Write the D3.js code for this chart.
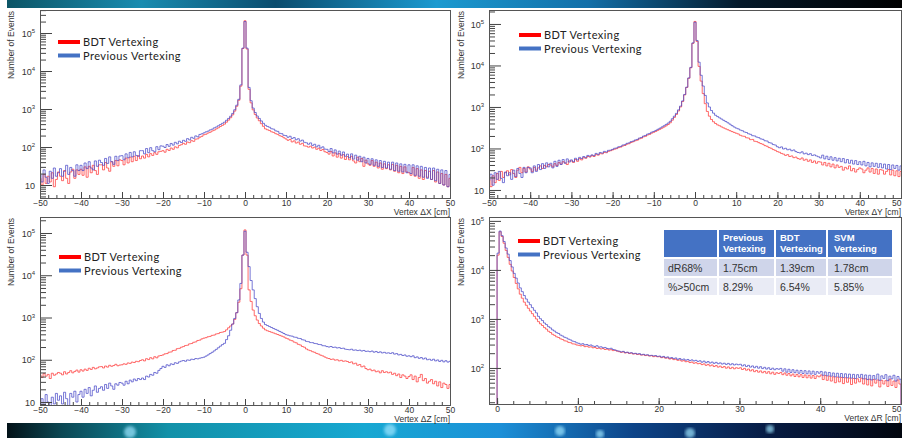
<!DOCTYPE html>
<html>
<head>
<meta charset="utf-8">
<script src="https://cdn.jsdelivr.net/npm/d3@7"></script>
<style>
  body { margin: 0; background: #fff; }
  svg { display: block; }
  text { font-family: "Liberation Sans", Arial, sans-serif; }
</style>
</head>
<body>
<svg id="chart" width="902" height="438"></svg>
<script>
/* global d3 */

// ---- data: bin contents ----
// dX, dY, dZ: bins 0.5 cm wide, centred on -50 ... 50
var dxPrevious = [
  19,12,25,16,11,23,15,28,17,21, 27,17,23,33,19,29,24,17,34,24,
  33,24,38,27,41,28,25,43,31,45, 39,33,50,37,55,41,35,57,44,58,
  59,46,66,52,72,55,75,60,57,80, 80,66,91,71,96,80,75,102,85,107,
  105,97,116,104,124,112,133,121,142,131, 150,141,166,154,180,169,196,185,214,222,
  235,250,261,281,294,318,336,362,390,420, 450,505,565,645,765,955,1260,1800,4300,40000,
  200000,
  40000,3700,1650,1060,810,655,565,485,420,372, 348,331,302,295,266,258,229,224,203,199,
  180,192,168,177,155,165,143,152,133,129, 118,128,110,118,101,111,94,101,88,87,
  76,91,70,84,65,78,61,74,57,65, 52,66,48,61,45,57,41,54,38,50,
  35,49,33,46,31,44,29,42,28,40, 26,40,24,38,23,36,22,35,21,34,
  20,34,18,32,17,31,16,29,15,28, 14,28,13,26,11,25,10,24,9,19
];
var dxBDT = [
  15,10,19,11,17,12,21,9,14,22, 17,13,24,15,11,22,26,15,25,19,
  26,18,30,16,31,21,33,24,19,34, 34,25,39,28,23,41,31,44,32,46,
  44,34,51,38,54,41,57,44,59,49, 58,51,64,55,67,60,71,64,75,77,
  80,73,87,81,94,87,101,95,110,115, 125,118,135,130,147,141,161,164,181,191,
  210,217,233,244,263,277,299,319,346,371, 400,450,510,590,700,880,1180,1700,4000,39000,
  210000,
  38000,3300,1450,950,720,580,490,410,350,300, 284,271,251,242,224,215,198,190,175,163,
  150,158,136,145,127,135,118,125,107,105, 99,105,94,99,87,93,81,86,75,72,
  65,76,58,70,54,67,51,63,47,56, 46,57,43,38,54,41,50,31,45,36,
  33,44,31,40,28,38,26,36,27,34, 25,35,23,33,21,31,20,30,22,21,
  18,29,17,27,15,25,14,24,16,23, 14,24,12,22,11,20,10,19,9,15
];
var dyPrevious = [
  17,24,13,26,18,28,19,15,27,22, 26,18,30,21,33,25,20,35,26,35,
  34,26,38,28,41,31,43,33,45,36, 44,34,49,37,52,41,54,44,56,47,
  53,48,58,53,61,57,64,60,68,65, 70,67,76,72,80,77,85,82,90,91,
  95,101,103,110,112,121,123,133,136,146, 150,160,165,178,184,199,206,222,230,247,
  257,272,290,308,330,352,380,410,450,520, 600,700,850,1050,1400,2000,3000,5000,9000,35000,
  110000,
  40000,12000,5800,3200,1900,1250,1000,820,710,630, 585,545,510,475,445,415,385,355,330,310,
  297,278,268,250,242,226,219,203,200,188, 182,170,166,153,151,138,135,124,121,110,
  104,109,97,101,93,96,88,92,84,80, 78,83,74,77,71,75,68,70,66,63,
  59,69,56,65,54,63,52,60,50,58, 48,57,45,54,44,52,42,51,41,48,
  40,49,38,46,36,45,37,44,35,43, 34,42,32,41,31,40,33,39,30,38
];
var dyBDT = [
  18,12,22,15,25,17,28,20,26,29, 23,31,25,20,30,35,26,33,27,36,
  32,28,35,30,34,38,33,39,36,41, 40,36,43,39,46,42,48,45,41,50,
  50,46,54,49,57,53,60,58,64,62, 67,64,71,69,75,74,80,79,85,88,
  92,96,99,105,108,115,118,127,130,139, 145,153,158,170,176,190,196,211,218,234,
  245,258,274,290,308,328,350,378,415,480, 560,660,800,1000,1350,1950,2950,4900,8800,34000,
  115000,
  38000,9500,4200,2100,1200,780,600,500,440,400, 370,352,330,312,296,282,268,255,244,233,
  224,208,199,196,181,178,163,165,149,146, 138,131,126,117,113,105,101,94,90,84,
  81,76,73,68,71,64,66,60,62,57, 55,59,52,55,49,53,46,50,44,48,
  47,40,46,38,44,36,42,34,40,35, 37,30,35,32,38,29,33,27,31,34,
  32,26,30,34,27,33,25,32,24,31, 30,24,28,31,23,30,22,29,21,28
];
var dzPrevious = [
  8,12,7,15,10,6,13,9,16,11, 14,9,17,12,8,16,13,18,10,15,
  18,13,20,16,22,14,19,24,17,21, 23,19,26,21,28,24,20,27,25,29,
  28,25,31,27,33,30,35,32,36,34, 37,34,41,39,45,43,50,48,56,62,
  70,66,76,72,80,77,85,82,89,93, 96,92,99,97,103,101,107,105,109,112,
  115,122,130,140,150,162,176,192,210,228, 245,300,370,500,700,950,1300,2600,6400,30000,
  110000,
  35000,16000,7500,4500,2800,1800,1250,950,780,680, 645,610,580,548,522,497,468,445,418,392,
  382,368,362,344,340,322,318,298,292,272, 268,255,254,243,240,230,228,215,214,205,
  200,206,196,199,190,194,185,188,178,175, 172,178,168,171,165,169,161,166,158,160,
  155,161,151,157,148,154,145,150,143,146, 141,147,136,140,130,134,126,130,121,124,
  118,124,112,117,108,113,104,110,100,103, 97,103,94,99,91,97,89,95,88,92
];
var dzBDT = [
  44,38,47,41,45,36,48,43,46,50, 48,44,52,46,50,55,49,53,57,51,
  58,54,60,56,63,59,66,61,64,68, 69,64,71,67,74,70,73,78,72,75,
  76,80,78,84,82,88,86,92,90,96, 100,94,106,101,112,105,118,111,123,126,
  130,138,140,151,153,166,168,183,186,198, 205,217,221,238,242,259,265,286,292,312,
  325,333,350,357,378,384,408,416,442,450, 465,510,570,630,700,900,1300,2300,4800,30000,
  118000,
  30000,4500,2400,1500,1100,870,720,630,560,510, 485,466,447,430,412,396,378,362,346,325,
  312,292,282,262,252,232,224,206,198,180, 170,164,155,150,141,136,128,123,116,110,
  107,102,104,98,100,94,97,92,94,91, 86,89,80,83,74,77,68,71,62,58,
  60,55,57,52,54,49,55,50,52,49, 51,45,48,42,46,38,44,41,36,40,
  44,34,41,30,38,45,32,36,28,31, 34,27,31,24,30,22,28,26,21,26
];
// dR: bins 0.25 cm wide, from 0 to 50
var drPrevious = [
  22000,62000,50000,38000,28000,21000,15500,11500,8500,6800,5400,4300,3600,3000,2550,2200,1950,1700,1500,1330,
  1130,1010,925,825,765,695,655,598,565,525,505,468,448,422,408,386,372,352,344,326,
  318,305,312,296,301,288,294,280,275,284,266,270,258,262,250,246,252,238,232,224,
  220,212,218,206,210,201,205,196,199,192,196,186,190,183,186,178,181,176,179,172,
  175,166,172,162,168,158,163,155,160,150,156,147,152,144,149,141,146,139,143,136,
  140,131,138,128,135,126,132,124,130,122,127,120,125,118,124,116,122,115,120,116,
  119,110,116,107,113,104,110,101,108,99,106,97,103,95,101,93,99,92,97,94,
  98,86,96,82,94,81,92,80,90,78,89,77,88,76,87,75,86,74,84,78,
  85,71,83,69,81,68,79,66,78,65,77,64,76,63,75,62,74,61,73,64,
  74,60,72,58,71,57,70,59,75,56,69,61,73,55,68,60,71,54,67,59
];
var drBDT = [
  20000,60000,48000,35000,25000,18000,13000,9500,7000,5300,4100,3200,2650,2200,1900,1650,1450,1280,1130,1000,
  880,795,735,665,620,560,528,486,462,432,418,392,380,358,352,332,327,310,307,294,
  290,282,288,272,278,266,270,258,262,250,255,244,249,238,243,232,236,226,230,220,
  215,208,213,202,207,197,201,192,196,188,191,183,186,179,182,175,178,170,174,169,
  170,162,167,158,161,152,156,148,151,143,146,138,141,134,137,129,132,125,128,122,
  124,117,121,113,118,110,115,107,112,104,109,102,107,99,105,97,103,96,101,98,
  101,93,98,90,95,87,92,84,89,82,87,80,85,78,84,76,82,74,80,77,
  81,73,79,71,77,69,75,67,74,66,73,64,72,63,71,62,70,61,69,66,
  72,58,70,56,68,54,66,50,65,52,64,48,63,51,62,46,61,49,60,52,
  62,47,60,45,59,43,58,49,57,41,56,47,55,42,59,44,54,40,57,47
];

var seriesNames = ["BDT Vertexing", "Previous Vertexing"];
var xTicksSym = [-50, -40, -30, -20, -10, 0, 10, 20, 30, 40, 50];
var xTicksR = [0, 10, 20, 30, 40, 50];
var yTickPowers = [1, 2, 3, 4, 5];

var tableHead = ["", "Previous\nVertexing", "BDT\nVertexing", "SVM\nVertexing"];
var tableRows = [
  ["dR68%", "1.75cm", "1.39cm", "1.78cm"],
  ["%>50cm", "8.29%", "6.54%", "5.85%"]
];

// ---- layout ----
var width = 902;
var colBDT = "#ff4545", colPrev = "#4a4ac8";
var legBDT = "#ff0000", legPrev = "#4472c4";

var panels = [
  {id: "dx", left: 40, right: 450, top: 10, bottom: 198, xDomain: [-50, 50], yDomain: [4.55, 4.03e5],
   binStart: -50.25, binWidth: 0.5, prev: dxPrevious, bdt: dxBDT, xTicks: xTicksSym,
   title: "Vertex \u0394X [cm]", legX: 58, legY: 42, titleX: 14},
  {id: "dy", left: 489, right: 901, top: 10, bottom: 198, xDomain: [-50, 50], yDomain: [6.4, 2.17e5],
   binStart: -50.25, binWidth: 0.5, prev: dyPrevious, bdt: dyBDT, xTicks: xTicksSym,
   title: "Vertex \u0394Y [cm]", legX: 519, legY: 35, titleX: 464},
  {id: "dz", left: 40, right: 450, top: 217, bottom: 405, xDomain: [-50, 50], yDomain: [8.5, 2.39e5],
   binStart: -50.25, binWidth: 0.5, prev: dzPrevious, bdt: dzBDT, xTicks: xTicksSym,
   title: "Vertex \u0394Z [cm]", legX: 59, legY: 257, titleX: 14},
  {id: "dr", left: 489, right: 901, top: 217, bottom: 404, xDomain: [-1, 50], yDomain: [18.4, 1.2e5],
   binStart: 0, binWidth: 0.25, prev: drPrevious, bdt: drBDT, xTicks: xTicksR,
   title: "Vertex \u0394R [cm]", legX: 518, legY: 241, titleX: 464}
];

var svg = d3.select("#chart");
var defs = svg.append("defs");

// background strips of the slide
var gTop = defs.append("linearGradient").attr("id", "bgTop");
[["0%", "#0c5566"], ["15%", "#1a8cb0"], ["30%", "#0b4d6e"], ["48%", "#1c9ad0"],
 ["65%", "#136fa8"], ["82%", "#04192a"], ["100%", "#000"]].forEach(function(s) {
  gTop.append("stop").attr("offset", s[0]).attr("stop-color", s[1]);
});
var gBot = defs.append("linearGradient").attr("id", "bgBot");
[["0%", "#031218"], ["6%", "#0b4652"], ["18%", "#1291a8"], ["40%", "#17a8d2"],
 ["55%", "#1c90d8"], ["70%", "#0d4488"], ["85%", "#071c44"], ["100%", "#02060e"]].forEach(function(s) {
  gBot.append("stop").attr("offset", s[0]).attr("stop-color", s[1]);
});
defs.append("filter").attr("id", "soft").append("feGaussianBlur").attr("stdDeviation", 1.5);

svg.append("rect").attr("x", 7).attr("y", 0).attr("width", 895).attr("height", 8).attr("fill", "url(#bgTop)");
svg.append("rect").attr("x", 7).attr("y", 423).attr("width", 895).attr("height", 15).attr("fill", "url(#bgBot)");
var blobs = [[130, 432, 6], [390, 430, 6], [560, 431, 5], [600, 434, 4], [690, 433, 5], [770, 429, 4]];
svg.selectAll("circle.blob").data(blobs).enter().append("circle")
  .attr("class", "blob")
  .attr("cx", function(d) { return d[0]; })
  .attr("cy", function(d) { return d[1]; })
  .attr("r", function(d) { return d[2]; })
  .attr("fill", "#9fe6ff").attr("opacity", 0.7).attr("filter", "url(#soft)");

panels.forEach(drawPanel);
drawTable(664, 230);

function drawPanel(p) {
  var x = d3.scaleLinear().domain(p.xDomain).range([p.left, p.right]);
  var y = d3.scaleLog().domain(p.yDomain).range([p.bottom, p.top]);
  var g = svg.append("g");

  defs.append("clipPath").attr("id", "clip-" + p.id)
    .append("rect")
    .attr("x", p.left).attr("y", p.top)
    .attr("width", p.right - p.left).attr("height", p.bottom - p.top);

  // histograms as ROOT-style step outlines
  var floor = p.yDomain[0];
  function steps(values) {
    var pts = [[p.binStart, floor]];
    values.forEach(function(v, i) { pts.push([p.binStart + i * p.binWidth, v]); });
    var end = p.binStart + values.length * p.binWidth;
    pts.push([end, values[values.length - 1]]);
    pts.push([end, floor]);
    return pts;
  }
  var line = d3.line()
    .x(function(d) { return x(d[0]); })
    .y(function(d) { return y(d[1]); })
    .curve(d3.curveStepAfter);

  var hg = g.append("g").attr("clip-path", "url(#clip-" + p.id + ")");
  hg.append("path").datum(steps(p.bdt))
    .attr("fill", "none").attr("stroke", colBDT).attr("stroke-width", 1).attr("stroke-opacity", 0.8)
    .attr("d", line);
  hg.append("path").datum(steps(p.prev))
    .attr("fill", "none").attr("stroke", colPrev).attr("stroke-width", 1).attr("stroke-opacity", 0.75)
    .attr("d", line);

  // x axis: major and minor ticks pointing inwards
  var minorX = d3.range(p.xTicks[0], p.xTicks[p.xTicks.length - 1] + 0.1, 2);
  g.append("g")
    .attr("transform", "translate(0," + p.bottom + ")")
    .call(d3.axisBottom(x).tickValues(minorX).tickSize(-3).tickFormat(""))
    .call(function(a) { a.select(".domain").remove(); });
  var ax = g.append("g")
    .attr("transform", "translate(0," + p.bottom + ")")
    .call(d3.axisBottom(x).tickValues(p.xTicks).tickSize(-6).tickPadding(1.5));
  ax.select(".domain").remove();
  ax.selectAll("text").attr("font-size", 8.5).attr("fill", "#333")
    .style("font-family", "'Liberation Sans', Arial, sans-serif");
  // a label at the window's right edge is pulled in so it stays whole
  ax.selectAll(".tick").filter(function(d) { return x(d) > width - 6; })
    .select("text").attr("text-anchor", "end").attr("x", width - 1 - x.range()[1]);

  // y axis: log decades with minor ticks 2..9
  var decades = yTickPowers.map(function(k) { return Math.pow(10, k); })
    .filter(function(v) { return v >= p.yDomain[0] && v <= p.yDomain[1]; });
  var minorY = [];
  [0, 1, 2, 3, 4, 5].forEach(function(k) {
    for (var m = 2; m <= 9; m++) {
      var v = m * Math.pow(10, k);
      if (v >= p.yDomain[0] && v <= p.yDomain[1]) minorY.push(v);
    }
  });
  g.append("g")
    .attr("transform", "translate(" + p.left + ",0)")
    .call(d3.axisLeft(y).tickValues(minorY).tickSize(-6).tickFormat(""))
    .call(function(a) { a.select(".domain").remove(); });
  var ay = g.append("g")
    .attr("transform", "translate(" + p.left + ",0)")
    .call(d3.axisLeft(y).tickValues(decades).tickSize(-12).tickPadding(5).tickFormat(""));
  ay.select(".domain").remove();
  ay.selectAll(".tick").append("text")
    .attr("x", -5).attr("dy", "0.35em").attr("text-anchor", "end")
    .attr("font-size", 9).attr("fill", "#333")
    .each(function(d) {
      var t = d3.select(this), k = Math.round(Math.log10(d));
      t.append("tspan").text("10");
      if (k > 1) t.append("tspan").attr("font-size", 6).attr("dy", "-0.6em").text(k);
    });
  g.selectAll(".tick line").attr("stroke", "#444");

  // frame
  g.append("rect")
    .attr("x", p.left + 0.5).attr("y", p.top + 0.5)
    .attr("width", p.right - p.left).attr("height", p.bottom - p.top)
    .attr("fill", "none").attr("stroke", "#555").attr("stroke-width", 1);

  // titles
  g.append("text")
    .attr("x", p.right).attr("y", p.bottom + 16.5)
    .attr("text-anchor", "end").attr("font-size", 8.5).attr("fill", "#333")
    .text(p.title);
  g.append("text")
    .attr("transform", "translate(" + p.titleX + "," + (p.top + 1) + ") rotate(-90)")
    .attr("text-anchor", "end").attr("font-size", 8.5).attr("fill", "#333")
    .text("Number of Events");

  // legend
  var leg = g.selectAll("g.leg").data(seriesNames).enter().append("g")
    .attr("class", "leg")
    .attr("transform", function(d, i) { return "translate(" + p.legX + "," + (p.legY + i * 13.5) + ")"; });
  leg.append("line")
    .attr("x1", 0).attr("x2", 22)
    .attr("stroke", function(d, i) { return i === 0 ? legBDT : legPrev; })
    .attr("stroke-width", 4);
  leg.append("text")
    .attr("x", 25).attr("y", 4)
    .attr("font-size", 11).attr("letter-spacing", 0.45).attr("fill", "#222")
    .style("font-family", "Lato, 'Open Sans', sans-serif")
    .text(function(d) { return d; });
}

function drawTable(x0, y0) {
  var colW = [53, 55, 50, 64], gap = 2;
  var rowH = [27, 17, 17];
  var colX = [x0];
  for (var i = 1; i < colW.length; i++) colX.push(colX[i - 1] + colW[i - 1] + gap);
  var rowY = [y0];
  for (var j = 1; j < rowH.length; j++) rowY.push(rowY[j - 1] + rowH[j - 1] + gap);
  var fills = ["#4472c4", "#cfd5ea", "#e9ebf5"];

  var tg = svg.append("g").style("font-family", "Lato, 'Open Sans', sans-serif");
  var all = [tableHead].concat(tableRows);
  all.forEach(function(row, r) {
    row.forEach(function(cell, c) {
      tg.append("rect")
        .attr("x", colX[c]).attr("y", rowY[r])
        .attr("width", colW[c]).attr("height", rowH[r])
        .attr("fill", fills[r]);
      var pad = c === 3 ? 6 : 4;
      var t = tg.append("text")
        .attr("font-size", r === 0 ? 9.5 : 10.5)
        .attr("font-weight", r === 0 ? "bold" : "normal")
        .attr("fill", r === 0 ? "#fff" : "#333");
      cell.split("\n").forEach(function(s, k) {
        t.append("tspan")
          .attr("x", colX[c] + pad)
          .attr("y", r === 0 ? rowY[r] + 11 + k * 11 : rowY[r] + 12.5)
          .text(s);
      });
    });
  });
}
</script>
</body>
</html>
